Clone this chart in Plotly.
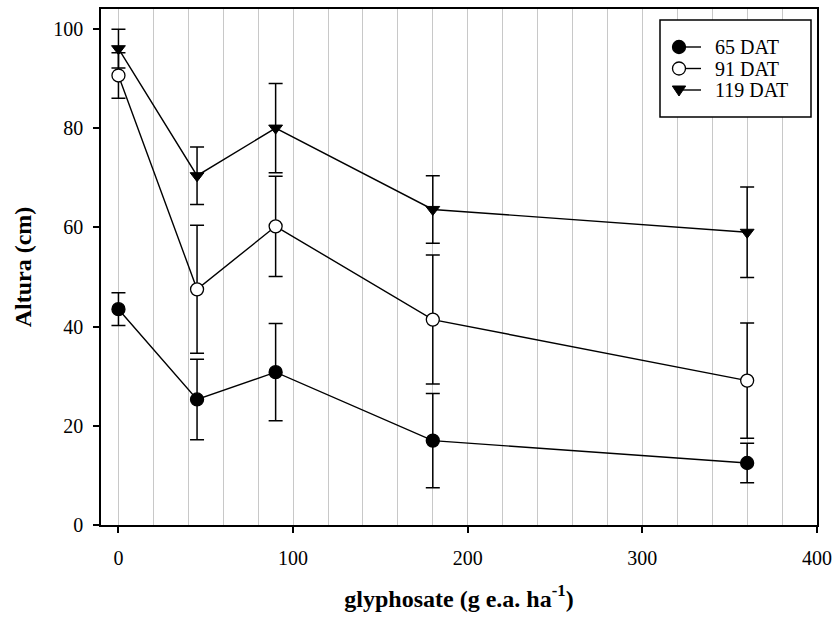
import plotly.graph_objects as go

dose = [0, 45, 90, 180, 360]
series_names = ["65 DAT", "91 DAT", "119 DAT"]
h65 = [43.5, 25.3, 30.8, 17.0, 12.5]
e65 = [3.3, 8.1, 9.8, 9.5, 4.0]
h91 = [90.6, 47.5, 60.2, 41.4, 29.1]
e91 = [4.6, 12.9, 10.1, 13.0, 11.6]
h119 = [96.0, 70.4, 80.0, 63.6, 59.0]
e119 = [3.9, 5.8, 9.0, 6.8, 9.1]

x_ticks = [0, 100, 200, 300, 400]
y_ticks = [0, 20, 40, 60, 80, 100]

FONT = "Liberation Serif"
W, H = 834, 617
ML, MR, MT, MB = 101, 17, 9, 92
PW, PH = W - ML - MR, H - MT - MB


def px(x):
    return (x - ML) / PW


def py(y):
    return (H - MB - y) / PH


styles = [
    dict(symbol="circle", size=13, color="black", line=dict(color="black", width=1.3)),
    dict(symbol="circle", size=13, color="white", line=dict(color="black", width=1.3)),
    dict(symbol="triangle-down", size=12, color="black", line=dict(color="black", width=1)),
]

fig = go.Figure()
for name, y, e, st in zip(series_names, [h65, h91, h119], [e65, e91, e119], styles):
    fig.add_trace(go.Scatter(
        x=dose, y=y, name=name, mode="lines+markers",
        line=dict(color="black", width=1.4),
        marker=st,
        error_y=dict(type="data", array=e, visible=True, color="black",
                     thickness=1.5, width=7),
        cliponaxis=False, showlegend=False,
    ))

# custom legend (box, symbol lines, markers, labels)
shapes = [dict(type="rect", xref="paper", yref="paper",
               x0=px(660), x1=px(811), y0=py(117), y1=py(20),
               line=dict(color="black", width=1.5), fillcolor="white", layer="above")]
annotations = []
rows = [47, 68.5, 90]
mx = 679
for name, ry, st in zip(series_names, rows, styles):
    shapes.append(dict(type="line", xref="paper", yref="paper",
                       x0=px(mx), x1=px(701), y0=py(ry), y1=py(ry),
                       line=dict(color="black", width=1.4), layer="above"))
    if st["symbol"] == "circle":
        r = 6.5
        shapes.append(dict(type="circle", xref="paper", yref="paper",
                           x0=px(mx - r), x1=px(mx + r), y0=py(ry + r), y1=py(ry - r),
                           fillcolor=st["color"], line=dict(color="black", width=1.3),
                           layer="above"))
    else:
        hw = 6.7
        path = "M {a},{b} L {c},{b} L {d},{e} Z".format(
            a=px(mx - hw), b=py(ry - 4), c=px(mx + hw), d=px(mx), e=py(ry + 6))
        shapes.append(dict(type="path", xref="paper", yref="paper", path=path,
                           fillcolor="black", line=dict(color="black", width=1),
                           layer="above"))
    annotations.append(dict(text=name, xref="paper", yref="paper",
                            x=px(713), y=py(ry), xanchor="left", yanchor="middle",
                            showarrow=False, font=dict(family=FONT, size=20, color="black")))

fig.update_layout(
    width=W, height=H,
    margin=dict(l=ML, r=MR, t=MT, b=MB),
    paper_bgcolor="white", plot_bgcolor="white",
    font=dict(family=FONT, size=20, color="black"),
    showlegend=False,
    shapes=shapes, annotations=annotations,
    xaxis=dict(
        range=[-10, 400], tickvals=x_ticks, ticktext=[str(v) for v in x_ticks],
        tickfont=dict(family=FONT, size=20),
        showline=True, linecolor="black", linewidth=1.5, mirror=True,
        ticks="outside", ticklen=6, tickwidth=1.5, tickcolor="black",
        showgrid=False, zeroline=False,
        minor=dict(dtick=20, tick0=0, showgrid=True, gridcolor="#c8c8c8", gridwidth=1, ticks=""),
        title=dict(text="<b>glyphosate (g e.a. ha<sup>-1</sup>)</b>", font=dict(family=FONT, size=24), standoff=22),
        ticklabelstandoff=8,
        automargin=False,
    ),
    yaxis=dict(
        range=[0, 104], tickvals=y_ticks, ticktext=[str(v) for v in y_ticks],
        tickfont=dict(family=FONT, size=20),
        showline=True, linecolor="black", linewidth=1.5, mirror=True,
        ticks="outside", ticklen=6, tickwidth=1.5, tickcolor="black",
        showgrid=False, zeroline=False,
        title=dict(text="<b>Altura (cm)</b>", font=dict(family=FONT, size=24), standoff=15),
        ticklabelstandoff=6,
        automargin=False,
    ),
)

fig.write_html("out.html")
